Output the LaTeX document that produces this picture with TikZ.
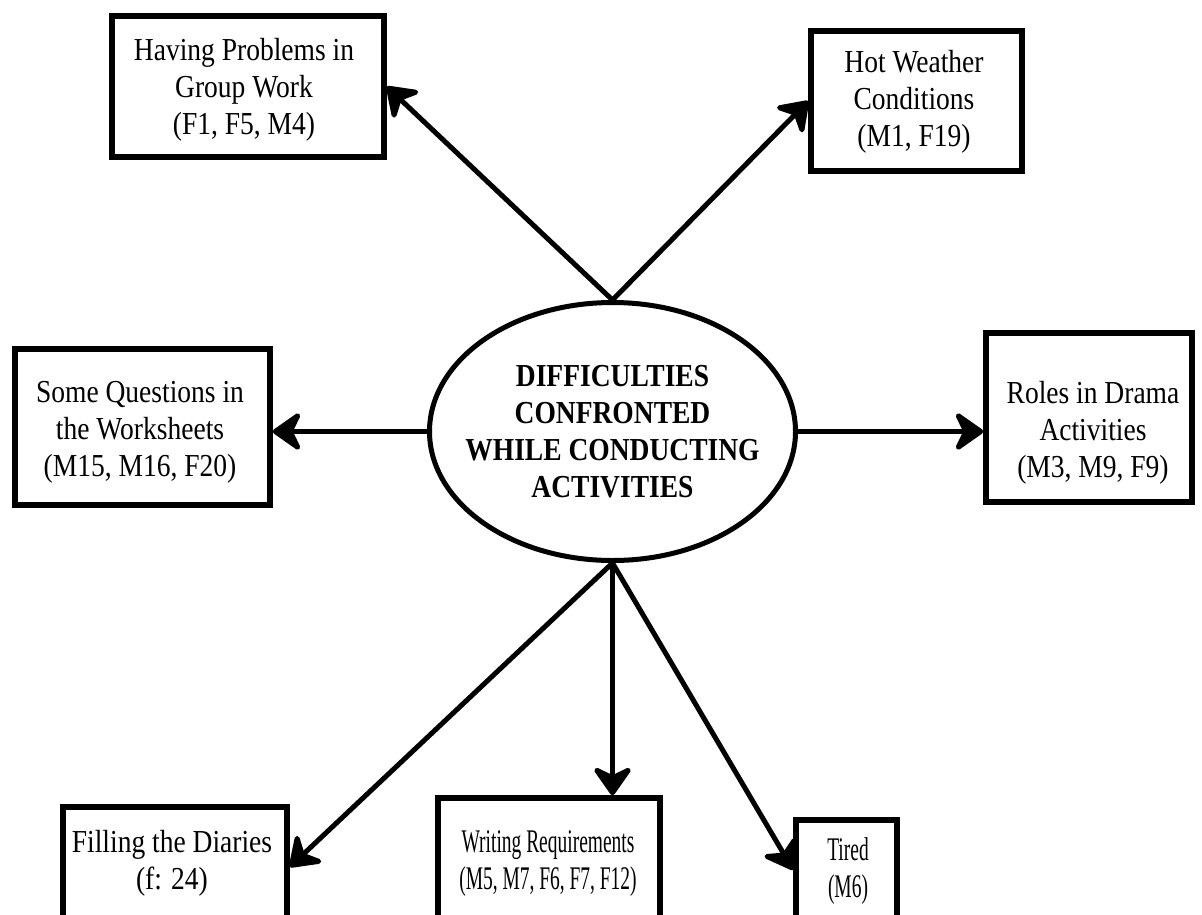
\documentclass[tikz,border=0pt]{standalone}
\usepackage{fontspec}
\setmainfont{Liberation Serif}[FakeStretch=0.86]
\newfontfamily\narrowserif{Liberation Serif}[FakeStretch=0.59]
\usetikzlibrary{arrows.meta,shapes.geometric,calc}
\begin{document}
\begin{tikzpicture}[x=1pt,y=-1pt,
  box/.style={draw, rectangle, line width=5.5pt, inner sep=0pt},
  lbl/.style={align=center, inner sep=0pt, font=\fontsize{32}{37}\selectfont},
  arr/.style={line width=5pt, -{Stealth[length=33pt,width=46pt,inset=11pt,round]}}]
\useasboundingbox (0,0) rectangle (1202,914);
\clip (0,0) rectangle (1202,914);
% centre ellipse
\node[draw, ellipse, line width=5pt, inner sep=0pt, minimum width=366pt, minimum height=258pt] (e) at (612.5,431.5) {};
\node[lbl, font=\fontsize{32}{37}\selectfont\bfseries] (et) at (612.5,432) {DIFFICULTIES\\CONFRONTED\\WHILE CONDUCTING\\ACTIVITIES};
% boxes
\node[box, minimum width=272pt, minimum height=141pt] (b1) at (248,86.5) {};
\node[lbl] (t1) at (244,90) {Having Problems in\\Group Work\\(F1, F5, M4)};
\node[box, minimum width=211pt, minimum height=140pt] (b2) at (916.5,101) {};
\node[lbl] (t2) at (914,102) {Hot Weather\\Conditions\\(M1, F19)};
\node[box, minimum width=255pt, minimum height=156pt] (b3) at (142.5,427) {};
\node[lbl] (t3) at (140,432) {Some Questions in\\the Worksheets\\(M15, M16, F20)};
\node[box, minimum width=206pt, minimum height=169pt] (b4) at (1089,417.5) {};
\node[lbl] (t4) at (1093,433) {Roles in Drama\\Activities\\(M3, M9, F9)};
\node[box, minimum width=224pt, minimum height=120pt] (b5) at (175,867) {};
\node[lbl] (t5) at (172,863.5) {Filling the Diaries\\(f: 24)};
\node[box, minimum width=222pt, minimum height=149pt] (b6) at (549,872.5) {};
\node[lbl, font=\fontsize{33}{37}\narrowserif] (t6) at (548,863.5) {Writing Requirements\\(M5, M7, F6, F7, F12)};
\node[box, minimum width=101pt, minimum height=100pt] (b7) at (846.5,870) {};
\node[lbl, font=\fontsize{33}{37}\narrowserif] (t7) at (848,871.5) {Tired\\(M6)};
% connectors
\draw[arr] (e.north) -- (b1.east);
\draw[arr] (e.north) -- (b2.west);
\draw[arr] (e.west) -- (e.west -| b3.east);
\draw[arr] (e.east) -- (e.east -| b4.west);
\draw[arr] (e.south) -- (b5.east);
\draw[arr] (e.south) -- (e.south |- b6.north);
\draw[arr] (e.south) -- (b7.west);
\end{tikzpicture}
\end{document}
